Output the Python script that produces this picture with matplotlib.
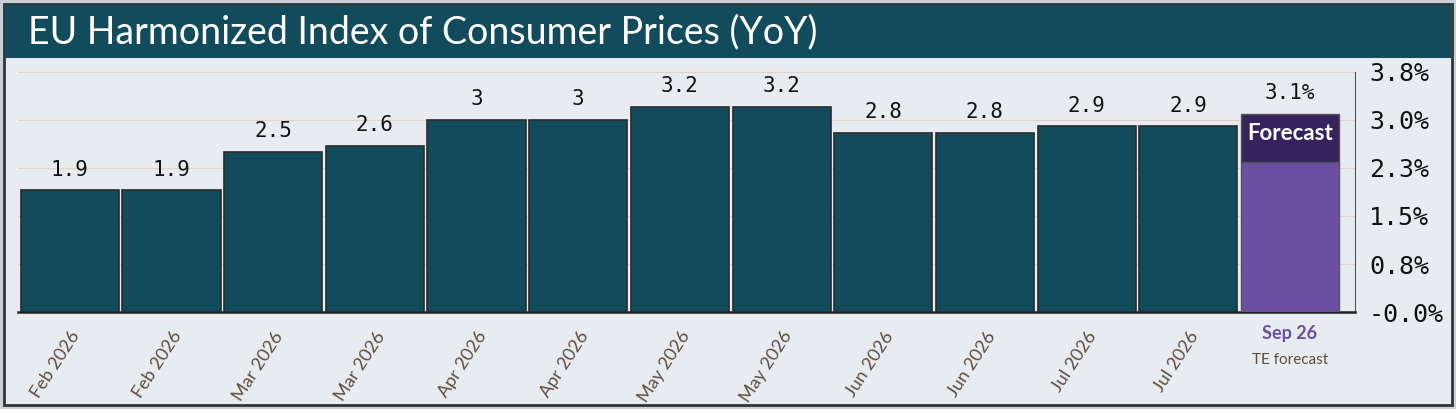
import matplotlib
matplotlib.use("Agg")
import matplotlib.pyplot as plt
from matplotlib.patches import Rectangle
import numpy as np

# datos del grafico
meses = ['Feb 2026', 'Feb 2026', 'Mar 2026', 'Mar 2026', 'Apr 2026', 'Apr 2026',
         'May 2026', 'May 2026', 'Jun 2026', 'Jun 2026', 'Jul 2026', 'Jul 2026']
valores = [1.9, 1.9, 2.5, 2.6, 3.0, 3.0, 3.2, 3.2, 2.8, 2.8, 2.9, 2.9]
pronostico_mes = 'Sep 26'
pronostico_valor = 3.1
y_ticks = [0, 0.75, 1.5, 2.25, 3.0, 3.75]
y_ticklabels = ['-0.0%', '0.8%', '1.5%', '2.3%', '3.0%', '3.8%']
titulo = 'EU Harmonized Index of Consumer Prices (YoY)'

# colores
fondo = '#e8ebf0'
teal = '#124b5b'
morado = '#6b4fa3'
morado_osc = '#36235e'
marron = '#5e4e40'

W, H = 1456, 409
fig = plt.figure(figsize=(W / 100, H / 100), dpi=100)
fig.patch.set_facecolor('#c9cfd6')

# marco exterior y banda del titulo
fig.patches.append(Rectangle((4 / W, 4 / H), (W - 8) / W, (H - 8) / H, transform=fig.transFigure,
                             facecolor=fondo, edgecolor='#333333', lw=2, zorder=-2))
fig.patches.append(Rectangle((5 / W, 1 - 58 / H), (W - 10) / W, 53 / H, transform=fig.transFigure,
                             facecolor=teal, edgecolor='none', zorder=-1))
fig.text(28 / W, 1 - 32 / H, titulo, color='white', fontsize=27, family='Lato',
         va='center', ha='left')

ax = fig.add_axes([18 / W, 1 - 312 / H, (1355 - 18) / W, (312 - 72) / H])
ax.set_facecolor(fondo)

x = np.arange(len(valores))
ax.bar(x, valores, width=0.965, color=teal, edgecolor='#2b2b2b', lw=1.2, zorder=3)

# barra de pronostico con banda superior
xf = len(valores)
banda = 0.75
ax.bar(xf, pronostico_valor - banda, width=0.965, color=morado, edgecolor='#555555', lw=1, zorder=3)
ax.bar(xf, banda, bottom=pronostico_valor - banda, width=0.965, color=morado_osc,
       edgecolor='#555555', lw=1, zorder=3)
ax.text(xf, pronostico_valor - banda / 2 + 0.06, 'Forecast', color='white', fontsize=16,
        fontweight='bold', family='Lato', ha='center', va='center', zorder=4)

# etiquetas de valores
for xi, v in zip(x, valores):
    ax.text(xi, v + 0.17, '{:g}'.format(v), ha='center', va='bottom', fontsize=15,
            family='DejaVu Sans Mono', color='#111111', zorder=4)
ax.text(xf, pronostico_valor + 0.17, '{:g}%'.format(pronostico_valor), ha='center', va='bottom',
        fontsize=15, family='DejaVu Sans Mono', color='#111111', zorder=4)

ax.set_xlim(-0.51, 12.64)
ax.set_ylim(0, 3.75)
ax.yaxis.tick_right()
ax.set_yticks(y_ticks)
ax.set_yticklabels(y_ticklabels, family='DejaVu Sans Mono', fontsize=18, color='#111111')
ax.tick_params(axis='y', length=0, pad=10)
ax.grid(axis='y', color='#ddd5cb', lw=0.8, zorder=0)

ax.set_xticks(x)
ax.set_xticklabels(meses, rotation=57, ha='right', rotation_mode='anchor', fontsize=13,
                   family='Lato', color=marron)
ax.tick_params(axis='x', length=0, pad=12)
ax.text(xf, -0.2, pronostico_mes, transform=ax.transData, ha='center', va='top', fontsize=13,
        fontweight='bold', family='Lato', color=morado)
ax.text(xf, -0.64, 'TE forecast', transform=ax.transData, ha='center', va='top', fontsize=11,
        family='Lato', color=marron)

for s in ['top', 'left']:
    ax.spines[s].set_visible(False)
ax.spines['right'].set_color('#555555')
ax.spines['bottom'].set_color('#222222')
ax.spines['bottom'].set_linewidth(1.8)

fig.savefig('out.png', dpi=100, facecolor=fig.get_facecolor())
